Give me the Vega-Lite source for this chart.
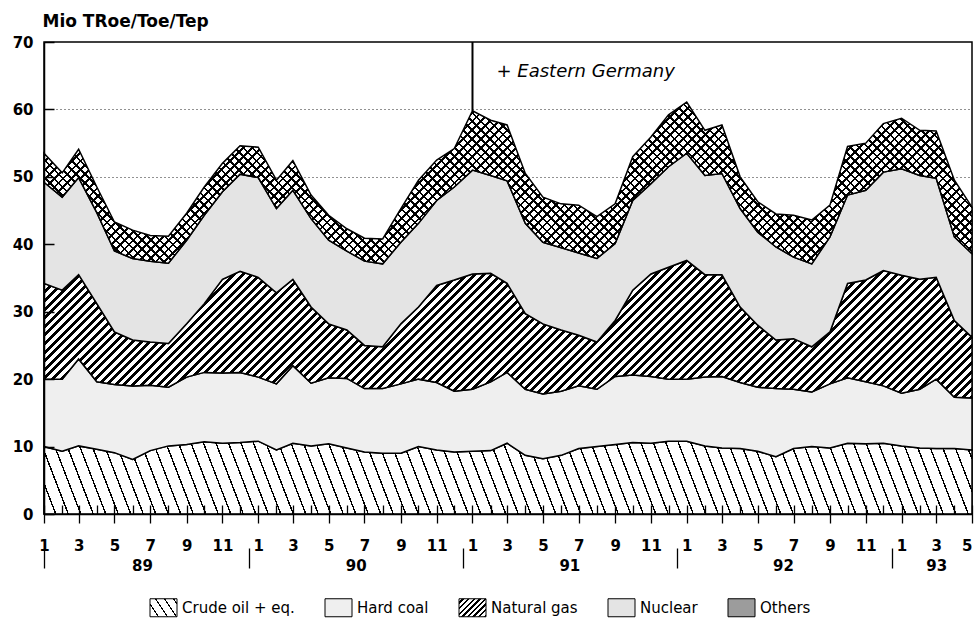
{
"$schema": "https://vega.github.io/schema/vega-lite/v6.json",
"width": 928, "height": 472,
"autosize": {"type": "none"},
"padding": {"left": 44, "top": 42, "right": 4, "bottom": 123},
"background": "white",
"config": {"font": "DejaVu Sans", "view": {"stroke": "black", "strokeWidth": 1.5}},
"params": [
{"name": "thin", "value": [
{"offset":0,"color":"transparent"},{"offset":0.0352,"color":"transparent"},{"offset":0.0352,"color":"black"},{"offset":0.04,"color":"black"},
{"offset":0.04,"color":"transparent"},{"offset":0.0752,"color":"transparent"},{"offset":0.0752,"color":"black"},{"offset":0.08,"color":"black"},
{"offset":0.08,"color":"transparent"},{"offset":0.1152,"color":"transparent"},{"offset":0.1152,"color":"black"},{"offset":0.12,"color":"black"},
{"offset":0.12,"color":"transparent"},{"offset":0.1552,"color":"transparent"},{"offset":0.1552,"color":"black"},{"offset":0.16,"color":"black"},
{"offset":0.16,"color":"transparent"},{"offset":0.1952,"color":"transparent"},{"offset":0.1952,"color":"black"},{"offset":0.2,"color":"black"},
{"offset":0.2,"color":"transparent"},{"offset":0.2352,"color":"transparent"},{"offset":0.2352,"color":"black"},{"offset":0.24,"color":"black"},
{"offset":0.24,"color":"transparent"},{"offset":0.2752,"color":"transparent"},{"offset":0.2752,"color":"black"},{"offset":0.28,"color":"black"},
{"offset":0.28,"color":"transparent"},{"offset":0.3152,"color":"transparent"},{"offset":0.3152,"color":"black"},{"offset":0.32,"color":"black"},
{"offset":0.32,"color":"transparent"},{"offset":0.3552,"color":"transparent"},{"offset":0.3552,"color":"black"},{"offset":0.36,"color":"black"},
{"offset":0.36,"color":"transparent"},{"offset":0.3952,"color":"transparent"},{"offset":0.3952,"color":"black"},{"offset":0.4,"color":"black"},
{"offset":0.4,"color":"transparent"},{"offset":0.4352,"color":"transparent"},{"offset":0.4352,"color":"black"},{"offset":0.44,"color":"black"},
{"offset":0.44,"color":"transparent"},{"offset":0.4752,"color":"transparent"},{"offset":0.4752,"color":"black"},{"offset":0.48,"color":"black"},
{"offset":0.48,"color":"transparent"},{"offset":0.5152,"color":"transparent"},{"offset":0.5152,"color":"black"},{"offset":0.52,"color":"black"},
{"offset":0.52,"color":"transparent"},{"offset":0.5552,"color":"transparent"},{"offset":0.5552,"color":"black"},{"offset":0.56,"color":"black"},
{"offset":0.56,"color":"transparent"},{"offset":0.5952,"color":"transparent"},{"offset":0.5952,"color":"black"},{"offset":0.6,"color":"black"},
{"offset":0.6,"color":"transparent"},{"offset":0.6352,"color":"transparent"},{"offset":0.6352,"color":"black"},{"offset":0.64,"color":"black"},
{"offset":0.64,"color":"transparent"},{"offset":0.6752,"color":"transparent"},{"offset":0.6752,"color":"black"},{"offset":0.68,"color":"black"},
{"offset":0.68,"color":"transparent"},{"offset":0.7152,"color":"transparent"},{"offset":0.7152,"color":"black"},{"offset":0.72,"color":"black"},
{"offset":0.72,"color":"transparent"},{"offset":0.7552,"color":"transparent"},{"offset":0.7552,"color":"black"},{"offset":0.76,"color":"black"},
{"offset":0.76,"color":"transparent"},{"offset":0.7952,"color":"transparent"},{"offset":0.7952,"color":"black"},{"offset":0.8,"color":"black"},
{"offset":0.8,"color":"transparent"},{"offset":0.8352,"color":"transparent"},{"offset":0.8352,"color":"black"},{"offset":0.84,"color":"black"},
{"offset":0.84,"color":"transparent"},{"offset":0.8752,"color":"transparent"},{"offset":0.8752,"color":"black"},{"offset":0.88,"color":"black"},
{"offset":0.88,"color":"transparent"},{"offset":0.9152,"color":"transparent"},{"offset":0.9152,"color":"black"},{"offset":0.92,"color":"black"},
{"offset":0.92,"color":"transparent"},{"offset":0.9552,"color":"transparent"},{"offset":0.9552,"color":"black"},{"offset":0.96,"color":"black"},
{"offset":0.96,"color":"transparent"},{"offset":0.9952,"color":"transparent"},{"offset":0.9952,"color":"black"},{"offset":1,"color":"black"},{"offset":1,"color":"transparent"}
]},
{"name": "mid", "value": [
{"offset":0,"color":"transparent"},{"offset":0.028,"color":"transparent"},{"offset":0.028,"color":"black"},{"offset":0.04,"color":"black"},
{"offset":0.04,"color":"transparent"},{"offset":0.068,"color":"transparent"},{"offset":0.068,"color":"black"},{"offset":0.08,"color":"black"},
{"offset":0.08,"color":"transparent"},{"offset":0.108,"color":"transparent"},{"offset":0.108,"color":"black"},{"offset":0.12,"color":"black"},
{"offset":0.12,"color":"transparent"},{"offset":0.148,"color":"transparent"},{"offset":0.148,"color":"black"},{"offset":0.16,"color":"black"},
{"offset":0.16,"color":"transparent"},{"offset":0.188,"color":"transparent"},{"offset":0.188,"color":"black"},{"offset":0.2,"color":"black"},
{"offset":0.2,"color":"transparent"},{"offset":0.228,"color":"transparent"},{"offset":0.228,"color":"black"},{"offset":0.24,"color":"black"},
{"offset":0.24,"color":"transparent"},{"offset":0.268,"color":"transparent"},{"offset":0.268,"color":"black"},{"offset":0.28,"color":"black"},
{"offset":0.28,"color":"transparent"},{"offset":0.308,"color":"transparent"},{"offset":0.308,"color":"black"},{"offset":0.32,"color":"black"},
{"offset":0.32,"color":"transparent"},{"offset":0.348,"color":"transparent"},{"offset":0.348,"color":"black"},{"offset":0.36,"color":"black"},
{"offset":0.36,"color":"transparent"},{"offset":0.388,"color":"transparent"},{"offset":0.388,"color":"black"},{"offset":0.4,"color":"black"},
{"offset":0.4,"color":"transparent"},{"offset":0.428,"color":"transparent"},{"offset":0.428,"color":"black"},{"offset":0.44,"color":"black"},
{"offset":0.44,"color":"transparent"},{"offset":0.468,"color":"transparent"},{"offset":0.468,"color":"black"},{"offset":0.48,"color":"black"},
{"offset":0.48,"color":"transparent"},{"offset":0.508,"color":"transparent"},{"offset":0.508,"color":"black"},{"offset":0.52,"color":"black"},
{"offset":0.52,"color":"transparent"},{"offset":0.548,"color":"transparent"},{"offset":0.548,"color":"black"},{"offset":0.56,"color":"black"},
{"offset":0.56,"color":"transparent"},{"offset":0.588,"color":"transparent"},{"offset":0.588,"color":"black"},{"offset":0.6,"color":"black"},
{"offset":0.6,"color":"transparent"},{"offset":0.628,"color":"transparent"},{"offset":0.628,"color":"black"},{"offset":0.64,"color":"black"},
{"offset":0.64,"color":"transparent"},{"offset":0.668,"color":"transparent"},{"offset":0.668,"color":"black"},{"offset":0.68,"color":"black"},
{"offset":0.68,"color":"transparent"},{"offset":0.708,"color":"transparent"},{"offset":0.708,"color":"black"},{"offset":0.72,"color":"black"},
{"offset":0.72,"color":"transparent"},{"offset":0.748,"color":"transparent"},{"offset":0.748,"color":"black"},{"offset":0.76,"color":"black"},
{"offset":0.76,"color":"transparent"},{"offset":0.788,"color":"transparent"},{"offset":0.788,"color":"black"},{"offset":0.8,"color":"black"},
{"offset":0.8,"color":"transparent"},{"offset":0.828,"color":"transparent"},{"offset":0.828,"color":"black"},{"offset":0.84,"color":"black"},
{"offset":0.84,"color":"transparent"},{"offset":0.868,"color":"transparent"},{"offset":0.868,"color":"black"},{"offset":0.88,"color":"black"},
{"offset":0.88,"color":"transparent"},{"offset":0.908,"color":"transparent"},{"offset":0.908,"color":"black"},{"offset":0.92,"color":"black"},
{"offset":0.92,"color":"transparent"},{"offset":0.948,"color":"transparent"},{"offset":0.948,"color":"black"},{"offset":0.96,"color":"black"},
{"offset":0.96,"color":"transparent"},{"offset":0.988,"color":"transparent"},{"offset":0.988,"color":"black"},{"offset":1,"color":"black"},{"offset":1,"color":"transparent"}
]},
{"name": "thick", "value": [
{"offset":0,"color":"transparent"},{"offset":0.022,"color":"transparent"},{"offset":0.022,"color":"black"},{"offset":0.04,"color":"black"},
{"offset":0.04,"color":"transparent"},{"offset":0.062,"color":"transparent"},{"offset":0.062,"color":"black"},{"offset":0.08,"color":"black"},
{"offset":0.08,"color":"transparent"},{"offset":0.102,"color":"transparent"},{"offset":0.102,"color":"black"},{"offset":0.12,"color":"black"},
{"offset":0.12,"color":"transparent"},{"offset":0.142,"color":"transparent"},{"offset":0.142,"color":"black"},{"offset":0.16,"color":"black"},
{"offset":0.16,"color":"transparent"},{"offset":0.182,"color":"transparent"},{"offset":0.182,"color":"black"},{"offset":0.2,"color":"black"},
{"offset":0.2,"color":"transparent"},{"offset":0.222,"color":"transparent"},{"offset":0.222,"color":"black"},{"offset":0.24,"color":"black"},
{"offset":0.24,"color":"transparent"},{"offset":0.262,"color":"transparent"},{"offset":0.262,"color":"black"},{"offset":0.28,"color":"black"},
{"offset":0.28,"color":"transparent"},{"offset":0.302,"color":"transparent"},{"offset":0.302,"color":"black"},{"offset":0.32,"color":"black"},
{"offset":0.32,"color":"transparent"},{"offset":0.342,"color":"transparent"},{"offset":0.342,"color":"black"},{"offset":0.36,"color":"black"},
{"offset":0.36,"color":"transparent"},{"offset":0.382,"color":"transparent"},{"offset":0.382,"color":"black"},{"offset":0.4,"color":"black"},
{"offset":0.4,"color":"transparent"},{"offset":0.422,"color":"transparent"},{"offset":0.422,"color":"black"},{"offset":0.44,"color":"black"},
{"offset":0.44,"color":"transparent"},{"offset":0.462,"color":"transparent"},{"offset":0.462,"color":"black"},{"offset":0.48,"color":"black"},
{"offset":0.48,"color":"transparent"},{"offset":0.502,"color":"transparent"},{"offset":0.502,"color":"black"},{"offset":0.52,"color":"black"},
{"offset":0.52,"color":"transparent"},{"offset":0.542,"color":"transparent"},{"offset":0.542,"color":"black"},{"offset":0.56,"color":"black"},
{"offset":0.56,"color":"transparent"},{"offset":0.582,"color":"transparent"},{"offset":0.582,"color":"black"},{"offset":0.6,"color":"black"},
{"offset":0.6,"color":"transparent"},{"offset":0.622,"color":"transparent"},{"offset":0.622,"color":"black"},{"offset":0.64,"color":"black"},
{"offset":0.64,"color":"transparent"},{"offset":0.662,"color":"transparent"},{"offset":0.662,"color":"black"},{"offset":0.68,"color":"black"},
{"offset":0.68,"color":"transparent"},{"offset":0.702,"color":"transparent"},{"offset":0.702,"color":"black"},{"offset":0.72,"color":"black"},
{"offset":0.72,"color":"transparent"},{"offset":0.742,"color":"transparent"},{"offset":0.742,"color":"black"},{"offset":0.76,"color":"black"},
{"offset":0.76,"color":"transparent"},{"offset":0.782,"color":"transparent"},{"offset":0.782,"color":"black"},{"offset":0.8,"color":"black"},
{"offset":0.8,"color":"transparent"},{"offset":0.822,"color":"transparent"},{"offset":0.822,"color":"black"},{"offset":0.84,"color":"black"},
{"offset":0.84,"color":"transparent"},{"offset":0.862,"color":"transparent"},{"offset":0.862,"color":"black"},{"offset":0.88,"color":"black"},
{"offset":0.88,"color":"transparent"},{"offset":0.902,"color":"transparent"},{"offset":0.902,"color":"black"},{"offset":0.92,"color":"black"},
{"offset":0.92,"color":"transparent"},{"offset":0.942,"color":"transparent"},{"offset":0.942,"color":"black"},{"offset":0.96,"color":"black"},
{"offset":0.96,"color":"transparent"},{"offset":0.982,"color":"transparent"},{"offset":0.982,"color":"black"},{"offset":1,"color":"black"},{"offset":1,"color":"transparent"}
]}
],
"data": {"values": [
{"d":"1989-01","s":"Crude oil + eq.","v":10.0},{"d":"1989-01","s":"Hard coal","v":10.0},{"d":"1989-01","s":"Natural gas","v":14.2},{"d":"1989-01","s":"Nuclear","v":15.0},{"d":"1989-01","s":"Others","v":4.3},
{"d":"1989-02","s":"Crude oil + eq.","v":9.3},{"d":"1989-02","s":"Hard coal","v":10.7},{"d":"1989-02","s":"Natural gas","v":13.2},{"d":"1989-02","s":"Nuclear","v":13.8},{"d":"1989-02","s":"Others","v":3.6},
{"d":"1989-03","s":"Crude oil + eq.","v":10.1},{"d":"1989-03","s":"Hard coal","v":12.9},{"d":"1989-03","s":"Natural gas","v":12.5},{"d":"1989-03","s":"Nuclear","v":14.4},{"d":"1989-03","s":"Others","v":4.2},
{"d":"1989-04","s":"Crude oil + eq.","v":9.6},{"d":"1989-04","s":"Hard coal","v":10.0},{"d":"1989-04","s":"Natural gas","v":11.6},{"d":"1989-04","s":"Nuclear","v":13.5},{"d":"1989-04","s":"Others","v":3.8},
{"d":"1989-05","s":"Crude oil + eq.","v":9.1},{"d":"1989-05","s":"Hard coal","v":10.1},{"d":"1989-05","s":"Natural gas","v":7.8},{"d":"1989-05","s":"Nuclear","v":12.0},{"d":"1989-05","s":"Others","v":4.3},
{"d":"1989-06","s":"Crude oil + eq.","v":8.1},{"d":"1989-06","s":"Hard coal","v":10.9},{"d":"1989-06","s":"Natural gas","v":6.8},{"d":"1989-06","s":"Nuclear","v":12.1},{"d":"1989-06","s":"Others","v":4.2},
{"d":"1989-07","s":"Crude oil + eq.","v":9.4},{"d":"1989-07","s":"Hard coal","v":9.7},{"d":"1989-07","s":"Natural gas","v":6.4},{"d":"1989-07","s":"Nuclear","v":12.0},{"d":"1989-07","s":"Others","v":3.8},
{"d":"1989-08","s":"Crude oil + eq.","v":10.1},{"d":"1989-08","s":"Hard coal","v":8.7},{"d":"1989-08","s":"Natural gas","v":6.5},{"d":"1989-08","s":"Nuclear","v":11.9},{"d":"1989-08","s":"Others","v":4.0},
{"d":"1989-09","s":"Crude oil + eq.","v":10.3},{"d":"1989-09","s":"Hard coal","v":10.0},{"d":"1989-09","s":"Natural gas","v":7.9},{"d":"1989-09","s":"Nuclear","v":12.4},{"d":"1989-09","s":"Others","v":4.0},
{"d":"1989-10","s":"Crude oil + eq.","v":10.7},{"d":"1989-10","s":"Hard coal","v":10.3},{"d":"1989-10","s":"Natural gas","v":10.2},{"d":"1989-10","s":"Nuclear","v":13.1},{"d":"1989-10","s":"Others","v":4.2},
{"d":"1989-11","s":"Crude oil + eq.","v":10.5},{"d":"1989-11","s":"Hard coal","v":10.4},{"d":"1989-11","s":"Natural gas","v":13.9},{"d":"1989-11","s":"Nuclear","v":13.0},{"d":"1989-11","s":"Others","v":4.2},
{"d":"1989-12","s":"Crude oil + eq.","v":10.6},{"d":"1989-12","s":"Hard coal","v":10.4},{"d":"1989-12","s":"Natural gas","v":15.0},{"d":"1989-12","s":"Nuclear","v":14.4},{"d":"1989-12","s":"Others","v":4.2},
{"d":"1990-01","s":"Crude oil + eq.","v":10.8},{"d":"1990-01","s":"Hard coal","v":9.5},{"d":"1990-01","s":"Natural gas","v":14.8},{"d":"1990-01","s":"Nuclear","v":14.8},{"d":"1990-01","s":"Others","v":4.5},
{"d":"1990-02","s":"Crude oil + eq.","v":9.5},{"d":"1990-02","s":"Hard coal","v":9.8},{"d":"1990-02","s":"Natural gas","v":13.5},{"d":"1990-02","s":"Nuclear","v":12.5},{"d":"1990-02","s":"Others","v":4.2},
{"d":"1990-03","s":"Crude oil + eq.","v":10.5},{"d":"1990-03","s":"Hard coal","v":11.5},{"d":"1990-03","s":"Natural gas","v":12.8},{"d":"1990-03","s":"Nuclear","v":13.2},{"d":"1990-03","s":"Others","v":4.4},
{"d":"1990-04","s":"Crude oil + eq.","v":10.1},{"d":"1990-04","s":"Hard coal","v":9.3},{"d":"1990-04","s":"Natural gas","v":11.3},{"d":"1990-04","s":"Nuclear","v":13.1},{"d":"1990-04","s":"Others","v":3.5},
{"d":"1990-05","s":"Crude oil + eq.","v":10.4},{"d":"1990-05","s":"Hard coal","v":9.8},{"d":"1990-05","s":"Natural gas","v":8.0},{"d":"1990-05","s":"Nuclear","v":12.4},{"d":"1990-05","s":"Others","v":3.7},
{"d":"1990-06","s":"Crude oil + eq.","v":9.8},{"d":"1990-06","s":"Hard coal","v":10.3},{"d":"1990-06","s":"Natural gas","v":7.2},{"d":"1990-06","s":"Nuclear","v":11.7},{"d":"1990-06","s":"Others","v":3.3},
{"d":"1990-07","s":"Crude oil + eq.","v":9.2},{"d":"1990-07","s":"Hard coal","v":9.4},{"d":"1990-07","s":"Natural gas","v":6.4},{"d":"1990-07","s":"Nuclear","v":12.5},{"d":"1990-07","s":"Others","v":3.4},
{"d":"1990-08","s":"Crude oil + eq.","v":9.0},{"d":"1990-08","s":"Hard coal","v":9.6},{"d":"1990-08","s":"Natural gas","v":6.2},{"d":"1990-08","s":"Nuclear","v":12.3},{"d":"1990-08","s":"Others","v":3.7},
{"d":"1990-09","s":"Crude oil + eq.","v":9.0},{"d":"1990-09","s":"Hard coal","v":10.3},{"d":"1990-09","s":"Natural gas","v":8.9},{"d":"1990-09","s":"Nuclear","v":12.1},{"d":"1990-09","s":"Others","v":5.0},
{"d":"1990-10","s":"Crude oil + eq.","v":10.0},{"d":"1990-10","s":"Hard coal","v":10.0},{"d":"1990-10","s":"Natural gas","v":10.7},{"d":"1990-10","s":"Nuclear","v":12.4},{"d":"1990-10","s":"Others","v":6.4},
{"d":"1990-11","s":"Crude oil + eq.","v":9.5},{"d":"1990-11","s":"Hard coal","v":10.0},{"d":"1990-11","s":"Natural gas","v":14.4},{"d":"1990-11","s":"Nuclear","v":12.6},{"d":"1990-11","s":"Others","v":6.0},
{"d":"1990-12","s":"Crude oil + eq.","v":9.2},{"d":"1990-12","s":"Hard coal","v":9.0},{"d":"1990-12","s":"Natural gas","v":16.5},{"d":"1990-12","s":"Nuclear","v":13.8},{"d":"1990-12","s":"Others","v":5.7},
{"d":"1991-01","s":"Crude oil + eq.","v":9.3},{"d":"1991-01","s":"Hard coal","v":9.2},{"d":"1991-01","s":"Natural gas","v":17.1},{"d":"1991-01","s":"Nuclear","v":15.4},{"d":"1991-01","s":"Others","v":8.8},
{"d":"1991-02","s":"Crude oil + eq.","v":9.4},{"d":"1991-02","s":"Hard coal","v":10.2},{"d":"1991-02","s":"Natural gas","v":16.1},{"d":"1991-02","s":"Nuclear","v":14.5},{"d":"1991-02","s":"Others","v":8.2},
{"d":"1991-03","s":"Crude oil + eq.","v":10.5},{"d":"1991-03","s":"Hard coal","v":10.5},{"d":"1991-03","s":"Natural gas","v":13.2},{"d":"1991-03","s":"Nuclear","v":15.2},{"d":"1991-03","s":"Others","v":8.3},
{"d":"1991-04","s":"Crude oil + eq.","v":8.7},{"d":"1991-04","s":"Hard coal","v":9.8},{"d":"1991-04","s":"Natural gas","v":11.2},{"d":"1991-04","s":"Nuclear","v":13.4},{"d":"1991-04","s":"Others","v":7.4},
{"d":"1991-05","s":"Crude oil + eq.","v":8.2},{"d":"1991-05","s":"Hard coal","v":9.6},{"d":"1991-05","s":"Natural gas","v":10.4},{"d":"1991-05","s":"Nuclear","v":12.1},{"d":"1991-05","s":"Others","v":6.7},
{"d":"1991-06","s":"Crude oil + eq.","v":8.7},{"d":"1991-06","s":"Hard coal","v":9.5},{"d":"1991-06","s":"Natural gas","v":9.1},{"d":"1991-06","s":"Nuclear","v":12.2},{"d":"1991-06","s":"Others","v":6.5},
{"d":"1991-07","s":"Crude oil + eq.","v":9.7},{"d":"1991-07","s":"Hard coal","v":9.3},{"d":"1991-07","s":"Natural gas","v":7.5},{"d":"1991-07","s":"Nuclear","v":12.2},{"d":"1991-07","s":"Others","v":7.1},
{"d":"1991-08","s":"Crude oil + eq.","v":10.0},{"d":"1991-08","s":"Hard coal","v":8.5},{"d":"1991-08","s":"Natural gas","v":7.0},{"d":"1991-08","s":"Nuclear","v":12.4},{"d":"1991-08","s":"Others","v":6.2},
{"d":"1991-09","s":"Crude oil + eq.","v":10.3},{"d":"1991-09","s":"Hard coal","v":10.1},{"d":"1991-09","s":"Natural gas","v":8.3},{"d":"1991-09","s":"Nuclear","v":11.4},{"d":"1991-09","s":"Others","v":5.9},
{"d":"1991-10","s":"Crude oil + eq.","v":10.6},{"d":"1991-10","s":"Hard coal","v":10.0},{"d":"1991-10","s":"Natural gas","v":12.6},{"d":"1991-10","s":"Nuclear","v":13.3},{"d":"1991-10","s":"Others","v":6.5},
{"d":"1991-11","s":"Crude oil + eq.","v":10.5},{"d":"1991-11","s":"Hard coal","v":9.9},{"d":"1991-11","s":"Natural gas","v":15.2},{"d":"1991-11","s":"Nuclear","v":13.4},{"d":"1991-11","s":"Others","v":6.9},
{"d":"1991-12","s":"Crude oil + eq.","v":10.8},{"d":"1991-12","s":"Hard coal","v":9.2},{"d":"1991-12","s":"Natural gas","v":16.6},{"d":"1991-12","s":"Nuclear","v":14.9},{"d":"1991-12","s":"Others","v":7.7},
{"d":"1992-01","s":"Crude oil + eq.","v":10.8},{"d":"1992-01","s":"Hard coal","v":9.2},{"d":"1992-01","s":"Natural gas","v":17.6},{"d":"1992-01","s":"Nuclear","v":15.9},{"d":"1992-01","s":"Others","v":7.6},
{"d":"1992-02","s":"Crude oil + eq.","v":10.1},{"d":"1992-02","s":"Hard coal","v":10.2},{"d":"1992-02","s":"Natural gas","v":15.2},{"d":"1992-02","s":"Nuclear","v":14.7},{"d":"1992-02","s":"Others","v":6.7},
{"d":"1992-03","s":"Crude oil + eq.","v":9.8},{"d":"1992-03","s":"Hard coal","v":10.6},{"d":"1992-03","s":"Natural gas","v":15.1},{"d":"1992-03","s":"Nuclear","v":15.0},{"d":"1992-03","s":"Others","v":7.2},
{"d":"1992-04","s":"Crude oil + eq.","v":9.7},{"d":"1992-04","s":"Hard coal","v":9.8},{"d":"1992-04","s":"Natural gas","v":11.2},{"d":"1992-04","s":"Nuclear","v":14.6},{"d":"1992-04","s":"Others","v":4.7},
{"d":"1992-05","s":"Crude oil + eq.","v":9.3},{"d":"1992-05","s":"Hard coal","v":9.5},{"d":"1992-05","s":"Natural gas","v":9.2},{"d":"1992-05","s":"Nuclear","v":13.8},{"d":"1992-05","s":"Others","v":4.5},
{"d":"1992-06","s":"Crude oil + eq.","v":8.5},{"d":"1992-06","s":"Hard coal","v":10.1},{"d":"1992-06","s":"Natural gas","v":7.2},{"d":"1992-06","s":"Nuclear","v":13.8},{"d":"1992-06","s":"Others","v":4.9},
{"d":"1992-07","s":"Crude oil + eq.","v":9.7},{"d":"1992-07","s":"Hard coal","v":8.8},{"d":"1992-07","s":"Natural gas","v":7.5},{"d":"1992-07","s":"Nuclear","v":12.1},{"d":"1992-07","s":"Others","v":6.2},
{"d":"1992-08","s":"Crude oil + eq.","v":10.0},{"d":"1992-08","s":"Hard coal","v":8.1},{"d":"1992-08","s":"Natural gas","v":6.7},{"d":"1992-08","s":"Nuclear","v":12.3},{"d":"1992-08","s":"Others","v":6.5},
{"d":"1992-09","s":"Crude oil + eq.","v":9.8},{"d":"1992-09","s":"Hard coal","v":9.5},{"d":"1992-09","s":"Natural gas","v":7.7},{"d":"1992-09","s":"Nuclear","v":14.1},{"d":"1992-09","s":"Others","v":4.7},
{"d":"1992-10","s":"Crude oil + eq.","v":10.5},{"d":"1992-10","s":"Hard coal","v":9.7},{"d":"1992-10","s":"Natural gas","v":14.0},{"d":"1992-10","s":"Nuclear","v":13.1},{"d":"1992-10","s":"Others","v":7.2},
{"d":"1992-11","s":"Crude oil + eq.","v":10.4},{"d":"1992-11","s":"Hard coal","v":9.2},{"d":"1992-11","s":"Natural gas","v":15.1},{"d":"1992-11","s":"Nuclear","v":13.3},{"d":"1992-11","s":"Others","v":7.0},
{"d":"1992-12","s":"Crude oil + eq.","v":10.5},{"d":"1992-12","s":"Hard coal","v":8.5},{"d":"1992-12","s":"Natural gas","v":17.1},{"d":"1992-12","s":"Nuclear","v":14.6},{"d":"1992-12","s":"Others","v":7.2},
{"d":"1993-01","s":"Crude oil + eq.","v":10.1},{"d":"1993-01","s":"Hard coal","v":7.8},{"d":"1993-01","s":"Natural gas","v":17.5},{"d":"1993-01","s":"Nuclear","v":15.8},{"d":"1993-01","s":"Others","v":7.5},
{"d":"1993-02","s":"Crude oil + eq.","v":9.8},{"d":"1993-02","s":"Hard coal","v":8.7},{"d":"1993-02","s":"Natural gas","v":16.3},{"d":"1993-02","s":"Nuclear","v":15.4},{"d":"1993-02","s":"Others","v":6.7},
{"d":"1993-03","s":"Crude oil + eq.","v":9.7},{"d":"1993-03","s":"Hard coal","v":10.3},{"d":"1993-03","s":"Natural gas","v":15.1},{"d":"1993-03","s":"Nuclear","v":14.7},{"d":"1993-03","s":"Others","v":7.0},
{"d":"1993-04","s":"Crude oil + eq.","v":9.7},{"d":"1993-04","s":"Hard coal","v":7.6},{"d":"1993-04","s":"Natural gas","v":11.4},{"d":"1993-04","s":"Nuclear","v":12.4},{"d":"1993-04","s":"Others","v":8.4},
{"d":"1993-05","s":"Crude oil + eq.","v":9.5},{"d":"1993-05","s":"Hard coal","v":7.7},{"d":"1993-05","s":"Natural gas","v":9.0},{"d":"1993-05","s":"Nuclear","v":12.4},{"d":"1993-05","s":"Others","v":6.9}
]},
"transform": [{"stack": "v", "groupby": ["d"], "sort": [{"field": "s", "order": "ascending"}], "as": ["v0", "v1"]}],
"encoding": {
  "x": {"field": "d", "type": "temporal", "scale": {"type": "utc", "nice": false, "domain": [{"year": 1989, "month": 1, "date": 1, "utc": true}, {"year": 1993, "month": 5, "date": 1, "utc": true}]}, "axis": null},
  "y": {"field": "v1", "type": "quantitative", "stack": null, "scale": {"domain": [0, 70], "nice": false}, "axis": null}
},
"layer": [
{"mark": {"type": "area", "stroke": "black", "strokeWidth": 1.5},
 "encoding": {
  "x": {"field": "d", "type": "temporal", "scale": {"type": "utc", "nice": false, "domain": [{"year": 1989, "month": 1, "date": 1, "utc": true}, {"year": 1993, "month": 5, "date": 1, "utc": true}]},
        "axis": {"orient": "bottom", "tickCount": {"interval": "month", "step": 1}, "tickSize": -9, "tickWidth": 1.3, "tickColor": "black", "labels": false, "domain": true, "domainColor": "black", "domainWidth": 1.5, "grid": false, "title": null, "zindex": 1}},
  "y": {"field": "v1", "type": "quantitative", "stack": null, "scale": {"domain": [0, 70], "nice": false},
        "axis": {"orient": "left", "values": [10, 20, 30, 40, 50, 60], "grid": true, "gridDash": [1, 3], "gridColor": "#222222", "gridWidth": 1, "ticks": false, "labels": false, "domain": false, "title": null, "zindex": 0}},
  "y2": {"field": "v0"},
  "fill": {"field": "s", "type": "nominal", "scale": {"range": ["white", "#efefef", "white", "#e4e4e4", "white"]}, "legend": null}
 }},
{"transform": [{"filter": "false"}],
 "mark": {"type": "area", "stroke": "black", "strokeWidth": 1},
 "encoding": {
  "y2": {"field": "v0"},
  "fill": {"field": "s", "type": "nominal",
     "scale": {"domain": ["Crude oil + eq.", "Hard coal", "Natural gas", "Nuclear", "Others"],
               "range": [{"expr": "{gradient: 'linear', x1: 0, y1: 1, x2: 6.959, y2: -2.093, stops: thin}"}, "#efefef", {"expr": "{gradient: 'linear', x1: 0, y1: 0, x2: 3.589, y2: 2.393, stops: thick}"}, "#e4e4e4", "#9c9c9c"]},
     "legend": {"orient": "none", "legendX": 110, "legendY": 556, "direction": "horizontal", "columns": 5, "title": null,
        "symbolType": "M-1.5,-1H1.5V1H-1.5Z", "symbolSize": 324, "symbolStrokeColor": "black", "symbolStrokeWidth": 1, "symbolOpacity": 1,
        "labelFont": "DejaVu Sans", "labelFontSize": 15, "labelColor": "black", "labelOffset": 9, "columnPadding": 28, "labelLimit": 300}}
 }},
{"transform": [{"filter": "datum.s == 'Crude oil + eq.'"}],
 "mark": {"type": "area", "fill": {"expr": "{gradient: 'linear', x1: 0, y1: 1, x2: 0.33645, y2: 0.98985, stops: thin}"}, "strokeWidth": 0},
 "encoding": {
  "x": {"field": "d", "type": "temporal", "scale": {"type": "utc", "nice": false, "domain": [{"year": 1989, "month": 1, "date": 1, "utc": true}, {"year": 1993, "month": 5, "date": 1, "utc": true}]},
        "axis": {"orient": "bottom", "tickCount": {"interval": "month", "step": 2}, "tickSize": 9, "tickWidth": 1.3, "tickColor": "black", "domain": false, "grid": false, "title": null,
                 "labelExpr": "utcyear(datum.value) == 1993 && utcmonth(datum.value) == 4 ? '' : utcFormat(datum.value, '%-m')", "labelPadding": 15, "labelFont": "DejaVu Sans", "labelFontSize": 15, "labelFontWeight": "bold", "labelColor": "black", "labelOverlap": false, "labelFlush": false, "labelAngle": 0, "zindex": 1}},
  "y": {"field": "v1", "type": "quantitative", "stack": null, "scale": {"domain": [0, 70], "nice": false},
        "axis": {"orient": "left", "values": [0, 10, 20, 30, 40, 50, 60, 70], "grid": false, "tickSize": -10, "tickWidth": 1.5, "tickColor": "black", "domain": true, "domainColor": "black", "domainWidth": 1.5,
                 "labelPadding": 21, "labelFont": "DejaVu Sans", "labelFontSize": 15, "labelFontWeight": "bold", "labelColor": "black", "labelFlush": false, "labelOverlap": false,
                 "title": "Mio TRoe/Toe/Tep", "titleAngle": 0, "titleAlign": "left", "titleBaseline": "alphabetic", "titleX": -2, "titleY": -16, "titleFont": "DejaVu Sans", "titleFontSize": 17, "titleFontWeight": "bold", "titleColor": "black", "zindex": 1}},
  "y2": {"field": "v0"}
 }},
{"transform": [{"filter": "datum.s == 'Crude oil + eq.'"}],
 "mark": {"type": "area", "fill": {"expr": "{gradient: 'linear', x1: 0.33645, y1: 0.98985, x2: 0.6729, y2: 0.9797, stops: thin}"}, "strokeWidth": 0},
 "encoding": {
  "x": {"field": "d", "type": "temporal", "scale": {"type": "utc", "nice": false, "domain": [{"year": 1989, "month": 1, "date": 1, "utc": true}, {"year": 1993, "month": 5, "date": 1, "utc": true}]},
        "axis": {"orient": "bottom", "values": [{"year": 1993, "month": 5, "date": 1, "utc": true}], "ticks": false, "domain": false, "grid": false, "title": null,
                 "labelExpr": "utcFormat(datum.value, '%-m')", "labelAlign": "right", "labelPadding": 24, "labelFont": "DejaVu Sans", "labelFontSize": 15, "labelFontWeight": "bold", "labelColor": "black", "labelOverlap": false, "labelFlush": false, "labelAngle": 0, "zindex": 1}},
  "y2": {"field": "v0"}
 }},
{"transform": [{"filter": "datum.s == 'Crude oil + eq.'"}],
 "mark": {"type": "area", "fill": {"expr": "{gradient: 'linear', x1: 0.6729, y1: 0.9797, x2: 1.00934, y2: 0.96954, stops: thin}"}, "strokeWidth": 0},
 "encoding": {"y2": {"field": "v0"}}},
{"transform": [{"filter": "datum.s == 'Crude oil + eq.'"}],
 "mark": {"type": "area", "fill": {"expr": "{gradient: 'linear', x1: 1.00934, y1: 0.96954, x2: 1.34579, y2: 0.95939, stops: thin}"}, "strokeWidth": 0},
 "encoding": {"y2": {"field": "v0"}}},
{"transform": [{"filter": "datum.s == 'Natural gas'"}],
 "mark": {"type": "area", "fill": {"expr": "{gradient: 'linear', x1: 0, y1: 0, x2: 0.2267, y2: 0.03361, stops: thick}"}, "strokeWidth": 0},
 "encoding": {
  "x": {"field": "d", "type": "temporal", "scale": {"type": "utc", "nice": false, "domain": [{"year": 1989, "month": 1, "date": 1, "utc": true}, {"year": 1993, "month": 5, "date": 1, "utc": true}]},
        "axis": {"orient": "bottom", "values": [{"year": 1989, "month": 1, "date": 1, "utc": true}, {"year": 1989, "month": 12, "date": 16, "utc": true}, {"year": 1990, "month": 12, "date": 16, "utc": true}, {"year": 1991, "month": 12, "date": 16, "utc": true}, {"year": 1992, "month": 12, "date": 16, "utc": true}],
                 "tickSize": 20, "tickWidth": 1.3, "tickColor": "black", "offset": 34, "domain": false, "labels": false, "grid": false, "title": null, "zindex": 1}},
  "y2": {"field": "v0"}
 }},
{"transform": [{"filter": "datum.s == 'Natural gas'"}],
 "mark": {"type": "area", "fill": {"expr": "{gradient: 'linear', x1: 0.2267, y1: 0.03361, x2: 0.45339, y2: 0.06723, stops: thick}"}, "strokeWidth": 0},
 "encoding": {
  "x": {"field": "d", "type": "temporal", "scale": {"type": "utc", "nice": false, "domain": [{"year": 1989, "month": 1, "date": 1, "utc": true}, {"year": 1993, "month": 5, "date": 1, "utc": true}]},
        "axis": {"orient": "bottom", "values": [{"year": 1989, "month": 6, "date": 17, "utc": true}, {"year": 1990, "month": 6, "date": 16, "utc": true}, {"year": 1991, "month": 6, "date": 15, "utc": true}, {"year": 1992, "month": 6, "date": 13, "utc": true}, {"year": 1993, "month": 3, "date": 1, "utc": true}],
                 "ticks": false, "domain": false, "grid": false, "title": null, "labelExpr": "utcFormat(datum.value, '%y')", "labelPadding": 44, "labelFont": "DejaVu Sans", "labelFontSize": 15, "labelFontWeight": "bold", "labelColor": "black", "labelOverlap": false, "labelFlush": false, "labelAngle": 0, "zindex": 1}},
  "y2": {"field": "v0"}
 }},
{"transform": [{"filter": "datum.s == 'Natural gas'"}],
 "mark": {"type": "area", "fill": {"expr": "{gradient: 'linear', x1: 0.45339, y1: 0.06723, x2: 0.68009, y2: 0.10084, stops: thick}"}, "strokeWidth": 0},
 "encoding": {"y2": {"field": "v0"}}},
{"transform": [{"filter": "datum.s == 'Natural gas'"}],
 "mark": {"type": "area", "fill": {"expr": "{gradient: 'linear', x1: 0.68009, y1: 0.10084, x2: 0.90678, y2: 0.13446, stops: thick}"}, "strokeWidth": 0},
 "encoding": {"y2": {"field": "v0"}}},
{"transform": [{"filter": "datum.s == 'Natural gas'"}],
 "mark": {"type": "area", "fill": {"expr": "{gradient: 'linear', x1: 0.90678, y1: 0.13446, x2: 1.13348, y2: 0.16807, stops: thick}"}, "strokeWidth": 0},
 "encoding": {"y2": {"field": "v0"}}},
{"transform": [{"filter": "datum.s == 'Others'"}],
 "mark": {"type": "area", "fill": {"expr": "{gradient: 'linear', x1: 0, y1: 1, x2: 0.23007, y2: 0.95989, stops: mid}"}, "strokeWidth": 0},
 "encoding": {"y2": {"field": "v0"}}},
{"transform": [{"filter": "datum.s == 'Others'"}],
 "mark": {"type": "area", "fill": {"expr": "{gradient: 'linear', x1: 0.23007, y1: 0.95989, x2: 0.46014, y2: 0.91977, stops: mid}"}, "strokeWidth": 0},
 "encoding": {"y2": {"field": "v0"}}},
{"transform": [{"filter": "datum.s == 'Others'"}],
 "mark": {"type": "area", "fill": {"expr": "{gradient: 'linear', x1: 0.46014, y1: 0.91977, x2: 0.69022, y2: 0.87966, stops: mid}"}, "strokeWidth": 0},
 "encoding": {"y2": {"field": "v0"}}},
{"transform": [{"filter": "datum.s == 'Others'"}],
 "mark": {"type": "area", "fill": {"expr": "{gradient: 'linear', x1: 0.69022, y1: 0.87966, x2: 0.92029, y2: 0.83954, stops: mid}"}, "strokeWidth": 0},
 "encoding": {"y2": {"field": "v0"}}},
{"transform": [{"filter": "datum.s == 'Others'"}],
 "mark": {"type": "area", "fill": {"expr": "{gradient: 'linear', x1: 0.92029, y1: 0.83954, x2: 1.15036, y2: 0.79943, stops: mid}"}, "strokeWidth": 0},
 "encoding": {"y2": {"field": "v0"}}},
{"transform": [{"filter": "datum.s == 'Others'"}],
 "mark": {"type": "area", "fill": {"expr": "{gradient: 'linear', x1: 0, y1: 0, x2: 0.23007, y2: 0.04011, stops: mid}"}, "strokeWidth": 0},
 "encoding": {"y2": {"field": "v0"}}},
{"transform": [{"filter": "datum.s == 'Others'"}],
 "mark": {"type": "area", "fill": {"expr": "{gradient: 'linear', x1: 0.23007, y1: 0.04011, x2: 0.46014, y2: 0.08023, stops: mid}"}, "strokeWidth": 0},
 "encoding": {"y2": {"field": "v0"}}},
{"transform": [{"filter": "datum.s == 'Others'"}],
 "mark": {"type": "area", "fill": {"expr": "{gradient: 'linear', x1: 0.46014, y1: 0.08023, x2: 0.69022, y2: 0.12034, stops: mid}"}, "strokeWidth": 0},
 "encoding": {"y2": {"field": "v0"}}},
{"transform": [{"filter": "datum.s == 'Others'"}],
 "mark": {"type": "area", "fill": {"expr": "{gradient: 'linear', x1: 0.69022, y1: 0.12034, x2: 0.92029, y2: 0.16046, stops: mid}"}, "strokeWidth": 0},
 "encoding": {"y2": {"field": "v0"}}},
{"transform": [{"filter": "datum.s == 'Others'"}],
 "mark": {"type": "area", "fill": {"expr": "{gradient: 'linear', x1: 0.92029, y1: 0.16046, x2: 1.15036, y2: 0.20057, stops: mid}"}, "strokeWidth": 0},
 "encoding": {"y2": {"field": "v0"}}},
{"transform": [{"filter": "datum.s == 'Others' && utcyear(datum.d) == 1991 && utcmonth(datum.d) == 0"}],
 "mark": {"type": "rule", "color": "black", "strokeWidth": 2},
 "encoding": {"y2": {"datum": 70}}},
{"transform": [{"filter": "datum.s == 'Others' && utcyear(datum.d) == 1991 && utcmonth(datum.d) == 0"}],
 "mark": {"type": "text", "text": "+ Eastern Germany", "align": "left", "baseline": "middle", "dx": 24, "font": "DejaVu Sans", "fontStyle": "italic", "fontSize": 18, "color": "black"},
 "encoding": {"y": {"datum": 65.6, "type": "quantitative", "scale": {"domain": [0, 70], "nice": false}, "axis": null}}}
],
"resolve": {"axis": {"x": "independent", "y": "independent"}, "scale": {"fill": "independent"}}
}
